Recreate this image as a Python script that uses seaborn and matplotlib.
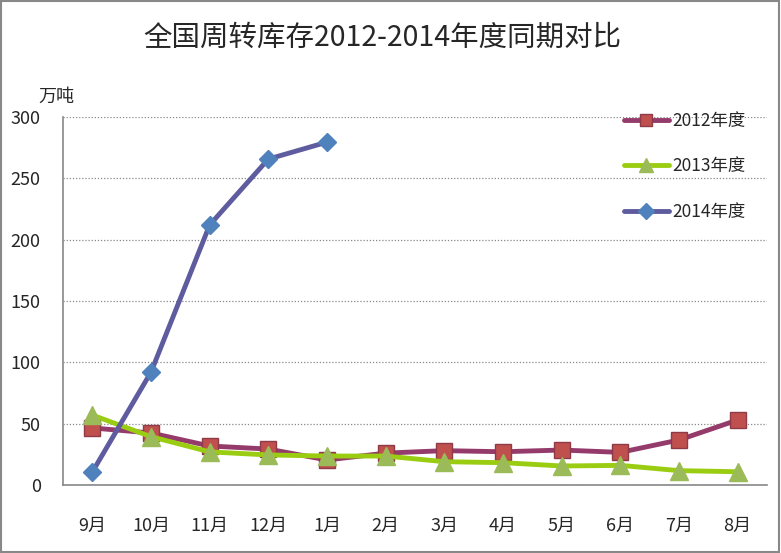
import matplotlib
matplotlib.use("Agg")
import matplotlib.pyplot as plt
import seaborn as sns
import pandas as pd
import numpy as np
from matplotlib.patches import Rectangle

months = ["9月", "10月", "11月", "12月", "1月", "2月", "3月", "4月", "5月", "6月", "7月", "8月"]
s2012 = [46.5, 42.4, 31.8, 29.3, 20.4, 26.0, 28.0, 27.1, 28.5, 26.6, 36.7, 53.0]
s2013 = [57.0, 39.4, 27.0, 24.5, 23.6, 23.6, 19.0, 18.2, 15.5, 16.0, 11.7, 10.8]
s2014 = [10.6, 92.0, 212.0, 265.7, 279.5]
series_names = ["2012年度", "2013年度", "2014年度"]
title = "全国周转库存2012-2014年度同期对比"
ylabel = "万吨"
yticks = [0, 50, 100, 150, 200, 250, 300]

sns.set_theme(style="white")
plt.rcParams['font.family'] = ['Noto Sans CJK SC', 'DejaVu Sans']

fig = plt.figure(figsize=(7.81, 5.53), dpi=100)
ax = fig.add_axes([63/781, 1-485/553, (767-63)/781, (485-117)/553])

pos = np.arange(len(months))
df = pd.DataFrame({"pos": pos, "m": months, "2012": s2012, "2013": s2013,
                   "2014": s2014 + [np.nan]*(len(months)-len(s2014))})

styles = [
    ("2012", "#953B6B", "s", "#C0504D", "#8E3A48", 11),
    ("2013", "#9ACD12", "^", "#9BBB59", "#9BBB59", 12.5),
    ("2014", "#5E5C9E", "D", "#4F81BD", "#4F81BD", 9),
]
handles = []
for (col, lc, mk, mfc, mec, ms), name in zip(styles, series_names):
    d = df.dropna(subset=[col])
    sns.lineplot(data=d, x="pos", y=col, ax=ax, color=lc, linewidth=3.5,
                 marker=mk, markersize=ms, markerfacecolor=mfc, markeredgecolor=mec,
                 markeredgewidth=1, sort=False, label=name, legend=False)
    handles.append(ax.lines[-1])

ax.set_xlim(-0.5, len(months)-0.5)
ax.set_ylim(0, 300)
ax.set_yticks(yticks)
ax.set_yticklabels([str(v) for v in yticks], fontsize=13)
ax.yaxis.grid(True, linestyle=(0, (1, 1.5)), color="#888888", linewidth=0.9)
ax.set_axisbelow(True)
ax.tick_params(axis='y', length=0, pad=16)

ax.set_xticks(np.arange(len(months)+1) - 0.5)
ax.set_xticklabels([])
ax.set_xticks(pos, minor=True)
ax.set_xticklabels(months, minor=True, fontsize=13)
ax.tick_params(axis='x', which='major', direction='in', length=6, color="#888888", width=1)
ax.tick_params(axis='x', which='minor', length=0, pad=23)
ax.set_xlabel("")
ax.set_ylabel("")

for side in ["top", "right"]:
    ax.spines[side].set_visible(False)
for side in ["left", "bottom"]:
    ax.spines[side].set_color("#888888")
    ax.spines[side].set_linewidth(1.2)

fig.text(0.49, 1-38/553, title, ha="center", va="center", fontsize=20.5)
fig.text(38/781, 1-97/553, ylabel, ha="left", va="center", fontsize=13)

from matplotlib.lines import Line2D
leg_handles = [Line2D([], [], color=h.get_color(), linewidth=3.5, marker=h.get_marker(),
                      markersize=h.get_markersize()*0.85, markerfacecolor=h.get_markerfacecolor(),
                      markeredgecolor=h.get_markeredgecolor()) for h in handles]
fig.legend(handles=leg_handles, labels=series_names, loc="upper left",
           bbox_to_anchor=(608/781, 1-96/553), frameon=False, fontsize=12.5,
           handlelength=2.6, labelspacing=1.6, handletextpad=0.2)

fig.patches.append(Rectangle((0.001, 0.001), 0.997, 0.997, transform=fig.transFigure,
                             fill=False, edgecolor="#888888", linewidth=1.5))

fig.savefig("out.png", dpi=100)
